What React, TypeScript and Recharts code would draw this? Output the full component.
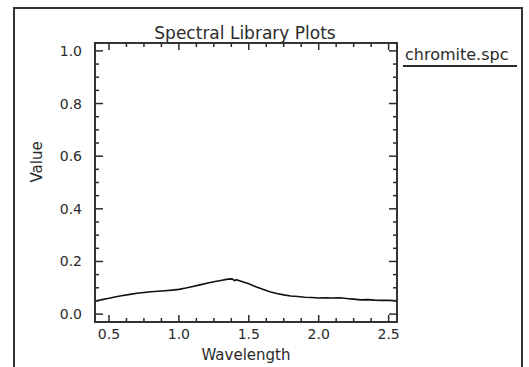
import React from 'react';
import { LineChart, Line, XAxis, YAxis, ReferenceArea, Legend } from 'recharts';

// wavelength (micron) and reflectance
const wavelengths = [
  0.4, 0.45, 0.5, 0.55, 0.6, 0.65, 0.7, 0.75, 0.8, 0.85, 0.9, 0.95, 1.0, 1.05, 1.1, 1.15,
  1.2, 1.25, 1.3, 1.35, 1.38, 1.4, 1.41, 1.45, 1.5, 1.55, 1.6, 1.65, 1.7, 1.75, 1.8, 1.85,
  1.9, 1.95, 2.0, 2.05, 2.1, 2.15, 2.2, 2.25, 2.3, 2.35, 2.4, 2.45, 2.5, 2.56,
];
const chromite = [
  0.05, 0.055, 0.06, 0.066, 0.071, 0.075, 0.079, 0.082, 0.085, 0.087, 0.089, 0.091, 0.094, 0.099, 0.105, 0.111,
  0.117, 0.123, 0.128, 0.133, 0.134, 0.127, 0.131, 0.124, 0.115, 0.104, 0.094, 0.085, 0.078, 0.073, 0.069, 0.067,
  0.064, 0.063, 0.061, 0.062, 0.061, 0.062, 0.059, 0.057, 0.054, 0.055, 0.053, 0.052, 0.052, 0.051,
];

const xTicks = [0.5, 0.625, 0.75, 0.875, 1.0, 1.125, 1.25, 1.375, 1.5, 1.625, 1.75, 1.875, 2.0, 2.125, 2.25, 2.375, 2.5];
const xMajor = [0.5, 1.0, 1.5, 2.0, 2.5];
const yTicks = [0, 0.05, 0.1, 0.15, 0.2, 0.25, 0.3, 0.35, 0.4, 0.45, 0.5, 0.55, 0.6, 0.65, 0.7, 0.75, 0.8, 0.85, 0.9, 0.95, 1.0];
const yMajor = [0, 0.2, 0.4, 0.6, 0.8, 1.0];

const X_DOMAIN: [number, number] = [0.4, 2.56];
const Y_DOMAIN: [number, number] = [-0.03, 1.03];

const data = wavelengths.map((w, i) => ({ w, v: chromite[i] }));

const W = 529;
const H = 367;
const PL = 95;
const PR = 397;
const PT = 43;
const PB = 322;
const FONT = '"DejaVu Sans", sans-serif';
const INK = '#2a2a2a';

const XTick = (props: any) => {
  const { x, payload } = props;
  const major = xMajor.includes(payload.value);
  const len = major ? 7 : 4;
  return (
    <g>
      <line x1={x} x2={x} y1={PB} y2={PB - len} stroke={INK} strokeWidth={1.5} />
      <line x1={x} x2={x} y1={PT} y2={PT + len} stroke={INK} strokeWidth={1.5} />
      {major && (
        <text x={x} y={PB + 17} textAnchor="middle" fontSize={14} fontFamily={FONT} fill={INK}>
          {payload.value.toFixed(1)}
        </text>
      )}
    </g>
  );
};

const YTick = (props: any) => {
  const { y, payload } = props;
  const major = yMajor.includes(payload.value);
  const len = major ? 8 : 4;
  return (
    <g>
      <line x1={PL} x2={PL + len} y1={y} y2={y} stroke={INK} strokeWidth={1.5} />
      <line x1={PR} x2={PR - len} y1={y} y2={y} stroke={INK} strokeWidth={1.5} />
      {major && (
        <text x={PL - 13} y={y + 5} textAnchor="end" fontSize={14} fontFamily={FONT} fill={INK}>
          {payload.value.toFixed(1)}
        </text>
      )}
    </g>
  );
};

const LegendContent = ({ payload }: any) => (
  <div style={{ width: 114, fontFamily: FONT, fontSize: 16, color: INK, lineHeight: '18px' }}>
    {(payload || []).map((p: any, i: number) => (
      <div key={i}>
        <div style={{ paddingLeft: 2 }}>{p.value}</div>
        <div style={{ height: 2, background: INK, marginTop: 1 }} />
      </div>
    ))}
  </div>
);

export default function App() {
  return (
    <div style={{ position: 'absolute', left: 0, top: 0, width: W, height: H, overflow: 'hidden', background: '#fff' }}>
      <div
        style={{
          position: 'absolute',
          left: 13,
          top: 7,
          width: 506,
          height: 400,
          border: '2px solid #333',
        }}
      />
      <div style={{ position: 'absolute', left: 0, top: 0 }}>
        <LineChart
          width={W}
          height={H}
          data={data}
          margin={{ top: PT, right: W - PR, bottom: H - PB - 40, left: PL - 60 }}
        >
          <text x={245} y={39} textAnchor="middle" fontSize={17} fontFamily={FONT} fill={INK}>
            Spectral Library Plots
          </text>
          <XAxis
            dataKey="w"
            type="number"
            domain={X_DOMAIN}
            allowDataOverflow
            ticks={xTicks}
            interval={0}
            tick={<XTick />}
            tickLine={false}
            axisLine={false}
            height={40}
            label={{ value: 'Wavelength', position: 'insideBottom', offset: 2, fontSize: 15, fontFamily: FONT, fill: INK }}
          />
          <YAxis
            type="number"
            domain={Y_DOMAIN}
            allowDataOverflow
            ticks={yTicks}
            interval={0}
            tick={<YTick />}
            tickLine={false}
            axisLine={false}
            width={60}
            label={{ value: 'Value', angle: -90, position: 'insideLeft', offset: 0, dx: 2, fontSize: 15, fontFamily: FONT, fill: INK }}
          />
          <ReferenceArea
            x1={X_DOMAIN[0]}
            x2={X_DOMAIN[1]}
            y1={Y_DOMAIN[0]}
            y2={Y_DOMAIN[1]}
            fill="none"
            stroke="#333"
            strokeWidth={2}
            ifOverflow="visible"
          />
          <Legend
            layout="horizontal"
            verticalAlign="middle"
            align="center"
            content={<LegendContent />}
            wrapperStyle={{ top: 46, left: 403, width: 116 }}
          />
          <Line
            type="linear"
            dataKey="v"
            name="chromite.spc"
            stroke="#111"
            strokeWidth={1.6}
            dot={false}
            isAnimationActive={false}
          />
        </LineChart>
      </div>
    </div>
  );
}
